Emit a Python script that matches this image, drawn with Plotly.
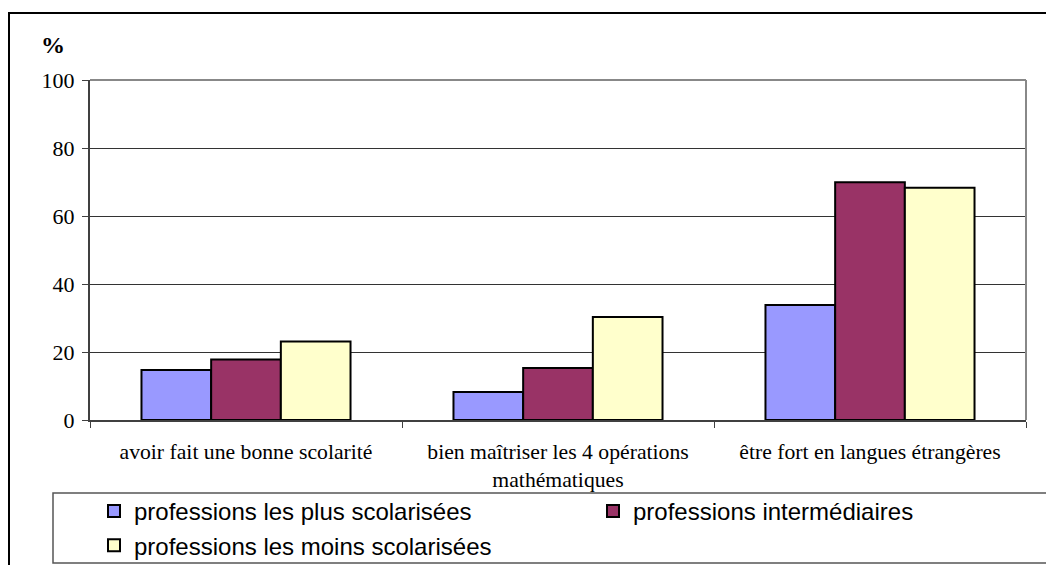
import plotly.graph_objects as go

categories = ["avoir fait une bonne scolarité",
              "bien maîtriser les 4 opérations<br>mathématiques",
              "être fort en langues étrangères"]
series_names = ["professions les plus scolarisées",
                "professions intermédiaires",
                "professions les moins scolarisées"]
plus_scol = [14.7, 8.2, 33.8]
intermediaires = [17.8, 15.3, 69.9]
moins_scol = [23.1, 30.3, 68.3]
y_ticks = [0, 20, 40, 60, 80, 100]
colors = ["#9999FF", "#993366", "#FFFFCC"]
legend_ids = ["legend", "legend2", "legend"]

W, H = 1046, 565
L, R, T, B = 90, 20, 80, 145
pw, ph = W - L - R, H - T - B

def px(x):
    return (x - L) / pw

def py(y):
    return (H - B - y) / ph

fig = go.Figure()
for name, vals, col, lg in zip(series_names, [plus_scol, intermediaires, moins_scol], colors, legend_ids):
    fig.add_trace(go.Bar(x=categories, y=vals, name=name, legend=lg,
                         marker=dict(color=col, line=dict(color="black", width=2))))

legend_font = dict(family="Liberation Sans", size=24, color="black")
fig.update_layout(
    width=W, height=H,
    margin=dict(l=L, r=R, t=T, b=B, autoexpand=False),
    paper_bgcolor="white", plot_bgcolor="white",
    barmode="group", bargap=0.33, bargroupgap=0,
    font=dict(family="Liberation Serif", color="black"),
    xaxis=dict(showgrid=False, ticks="outside", ticklen=6, tickson="boundaries",
               tickcolor="#404040", showline=True, linecolor="#404040", linewidth=2,
               ticklabelstandoff=11,
               tickfont=dict(family="Liberation Serif", size=21.7, color="black")),
    yaxis=dict(range=[0, 100], tickvals=y_ticks, ticks="outside", ticklen=6,
               tickcolor="#404040", showline=True, linecolor="#404040", linewidth=2,
               showgrid=True, gridcolor="#333333", gridwidth=1, zeroline=False,
               ticklabelstandoff=3,
               tickfont=dict(family="Liberation Serif", size=22, color="black")),
    legend=dict(orientation="v", x=px(94), y=py(489), xanchor="left", yanchor="top",
                font=legend_font, bgcolor="rgba(0,0,0,0)", borderwidth=0,
                traceorder="normal", tracegroupgap=0),
    legend2=dict(orientation="v", x=px(593), y=py(489), xanchor="left", yanchor="top",
                 font=legend_font, bgcolor="rgba(0,0,0,0)", borderwidth=0),
    showlegend=True,
)

shapes = [
    # outer frame
    dict(type="rect", xref="paper", yref="paper", x0=px(9), x1=px(1052), y0=py(572), y1=py(13),
         line=dict(color="black", width=2), fillcolor="rgba(0,0,0,0)", layer="above"),
    # legend box
    dict(type="rect", xref="paper", yref="paper", x0=px(53), x1=px(1052), y0=py(563), y1=py(493),
         line=dict(color="#555555", width=1.5), fillcolor="rgba(0,0,0,0)", layer="above"),
    # plot area top/right border
    dict(type="line", xref="paper", yref="paper", x0=0, x1=1, y0=1, y1=1,
         line=dict(color="#888888", width=2), layer="above"),
    dict(type="line", xref="paper", yref="paper", x0=1, x1=1, y0=0, y1=1,
         line=dict(color="#888888", width=2), layer="above"),
]
fig.update_layout(shapes=shapes)
fig.add_annotation(text="<b>%</b>", xref="paper", yref="paper", x=px(53), y=py(45),
                   xanchor="center", yanchor="middle", showarrow=False,
                   font=dict(family="Liberation Serif", size=24, color="black"))

fig.write_html("out.html", config={"displayModeBar": False},
               post_script="document.body.style.margin='0';document.body.style.overflow='hidden';")
